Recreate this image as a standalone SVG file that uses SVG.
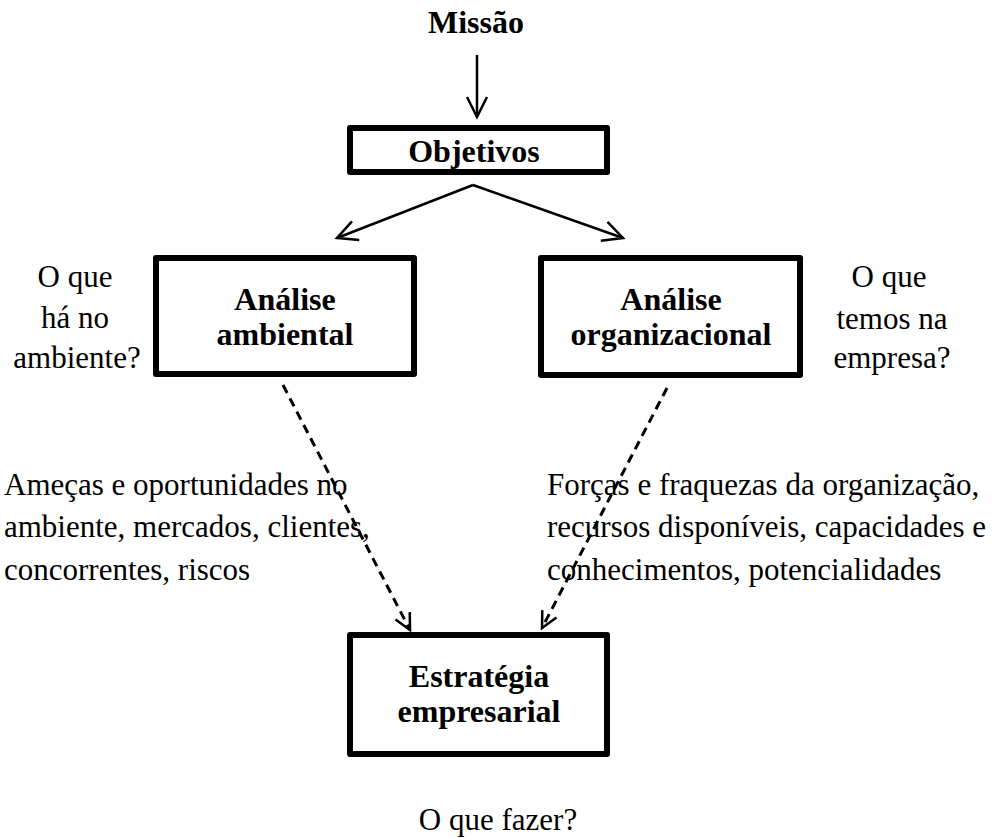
<svg xmlns="http://www.w3.org/2000/svg" width="993" height="838" viewBox="0 0 993 838">
<style>
.box{fill:#fff;stroke:#000;stroke-width:6;stroke-linejoin:round}
.b{font-family:"Liberation Serif","Times New Roman",serif;font-weight:bold;font-size:32px;fill:#000;text-anchor:middle}
.r{font-family:"Liberation Serif","Times New Roman",serif;font-size:31px;fill:#000}
.c{text-anchor:middle}
.ln{fill:none;stroke:#000;stroke-width:2.5}
.dash{stroke-width:3;stroke-dasharray:9 6}
</style>
<defs>
<marker id="arr" markerUnits="userSpaceOnUse" markerWidth="24" markerHeight="24" refX="20" refY="10" orient="auto" overflow="visible">
<path d="M0,0 L20,10 L0,20" fill="none" stroke="#000" stroke-width="2.5"/>
</marker>
<marker id="arrs" markerUnits="userSpaceOnUse" markerWidth="20" markerHeight="20" refX="16" refY="8" orient="auto" overflow="visible">
<path d="M0,0 L16,8 L0,16" fill="none" stroke="#000" stroke-width="2.5"/>
</marker>
</defs>
<rect width="993" height="838" fill="#fff"/>
<g id="connectors">
<line class="ln" x1="477" y1="55" x2="477" y2="117" marker-end="url(#arr)"/>
<line class="ln" x1="473" y1="185" x2="337" y2="238" marker-end="url(#arr)"/>
<line class="ln" x1="473" y1="185" x2="623" y2="238" marker-end="url(#arr)"/>
<line class="ln dash" x1="283" y1="385" x2="410" y2="630" marker-end="url(#arrs)"/>
<line class="ln dash" x1="667" y1="388" x2="542" y2="628" marker-end="url(#arrs)"/>
</g>
<g id="missao">
<text class="b" x="476" y="33">Missão</text>
</g>
<g id="objetivos">
<rect class="box" x="350" y="128" width="257" height="44"/>
<text class="b" x="474" y="162">Objetivos</text>
</g>
<g id="analise-ambiental">
<rect class="box" x="156" y="258" width="258" height="116"/>
<text class="b" x="285" y="310">Análise</text>
<text class="b" x="285" y="345">ambiental</text>
</g>
<g id="analise-organizacional">
<rect class="box" x="541" y="258" width="259" height="117"/>
<text class="b" x="671" y="310">Análise</text>
<text class="b" x="671" y="345">organizacional</text>
</g>
<g id="estrategia">
<rect class="box" x="350" y="635" width="257" height="119"/>
<text class="b" x="479" y="687">Estratégia</text>
<text class="b" x="479" y="722">empresarial</text>
</g>
<g id="label-ambiente">
<text class="r c" x="75" y="287">O que</text>
<text class="r c" x="75" y="328">há no</text>
<text class="r c" x="77" y="368">ambiente?</text>
</g>
<g id="label-empresa">
<text class="r c" x="889" y="287">O que</text>
<text class="r c" x="892" y="329">temos na</text>
<text class="r c" x="892" y="368">empresa?</text>
</g>
<g id="text-ameacas">
<text class="r" x="4" y="495">Ameças e oportunidades no</text>
<text class="r" x="4" y="537">ambiente, mercados, clientes,</text>
<text class="r" x="4" y="580">concorrentes, riscos</text>
</g>
<g id="text-forcas">
<text class="r" x="547" y="495">Forças e fraquezas da organização,</text>
<text class="r" x="547" y="537">recursos disponíveis, capacidades e</text>
<text class="r" x="547" y="580">conhecimentos, potencialidades</text>
</g>
<g id="label-fazer">
<text class="r c" x="498" y="830">O que fazer?</text>
</g>
</svg>
